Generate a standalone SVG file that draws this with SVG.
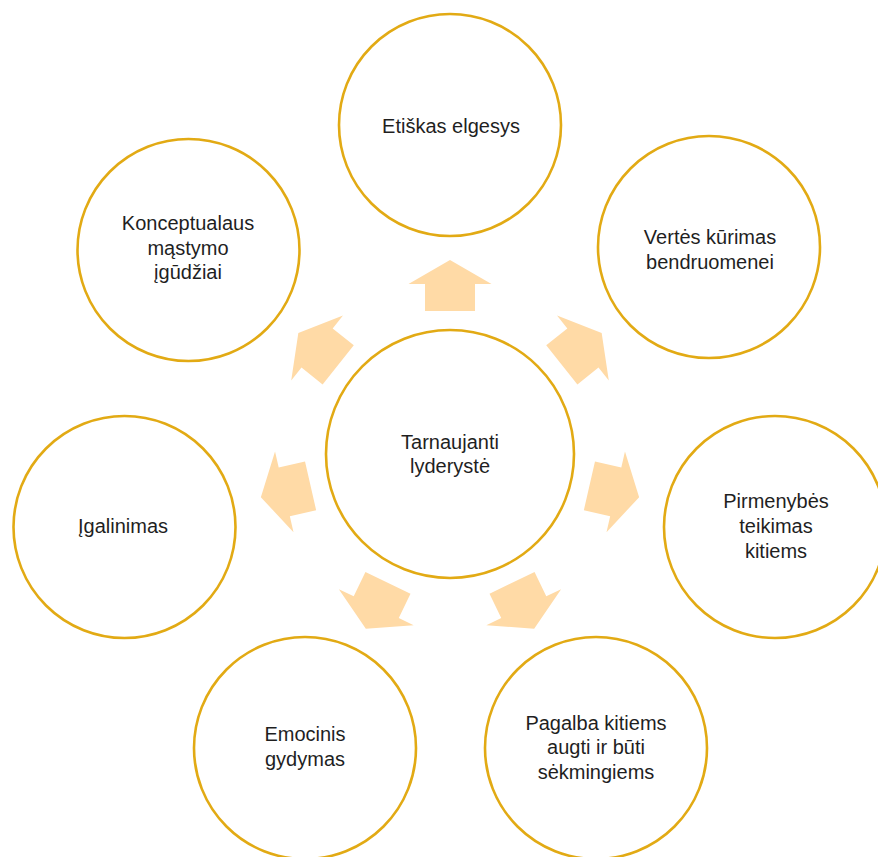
<svg xmlns="http://www.w3.org/2000/svg" width="878" height="857" viewBox="0 0 878 857">
  <style>
    .node circle { fill: #ffffff; stroke: #E2AA14; stroke-width: 2.6; }
    .node text { font-family: "Liberation Sans", Arial, sans-serif; font-size: 20px; fill: #1f1f1f; text-anchor: middle; }
    .arrow { fill: #FFDAA6; }
  </style>
  <defs>
    <!-- block arrow pointing away from the hub, drawn for the upward direction -->
    <path id="blockArrow" d="M450,260 L491.5,284 L475,284 L475,311 L425,311 L425,284 L408.5,284 Z"/>
  </defs>
  <rect width="878" height="857" fill="#ffffff"/>

  <g id="connectors">
    <use href="#blockArrow" class="arrow" transform="rotate(0 450 454)"/>
    <use href="#blockArrow" class="arrow" transform="rotate(51.43 450 454)"/>
    <use href="#blockArrow" class="arrow" transform="rotate(102.86 450 454)"/>
    <use href="#blockArrow" class="arrow" transform="rotate(154.29 450 454)"/>
    <use href="#blockArrow" class="arrow" transform="rotate(205.71 450 454)"/>
    <use href="#blockArrow" class="arrow" transform="rotate(257.14 450 454)"/>
    <use href="#blockArrow" class="arrow" transform="rotate(308.57 450 454)"/>
  </g>

  <g id="hub" class="node">
    <circle cx="450" cy="454" r="124"/>
    <text x="450" y="449">Tarnaujanti</text>
    <text x="450" y="473">lyderystė</text>
  </g>

  <g id="etiskas-elgesys" class="node">
    <circle cx="450" cy="125" r="111"/>
    <text x="451" y="133">Etiškas elgesys</text>
  </g>

  <g id="vertes-kurimas" class="node">
    <circle cx="709" cy="247" r="111"/>
    <text x="710" y="244">Vertės kūrimas</text>
    <text x="710" y="269">bendruomenei</text>
  </g>

  <g id="pirmenybes-teikimas" class="node">
    <circle cx="775" cy="527" r="111"/>
    <text x="776" y="508">Pirmenybės</text>
    <text x="776" y="533">teikimas</text>
    <text x="776" y="558">kitiems</text>
  </g>

  <g id="pagalba-kitiems" class="node">
    <circle cx="596" cy="748" r="111"/>
    <text x="596" y="730">Pagalba kitiems</text>
    <text x="596" y="754">augti ir būti</text>
    <text x="596" y="779">sėkmingiems</text>
  </g>

  <g id="emocinis-gydymas" class="node">
    <circle cx="305" cy="748" r="111"/>
    <text x="305" y="741">Emocinis</text>
    <text x="305" y="766">gydymas</text>
  </g>

  <g id="igalinimas" class="node">
    <circle cx="124.5" cy="527" r="111"/>
    <text x="123" y="533">Įgalinimas</text>
  </g>

  <g id="konceptualaus-mastymo" class="node">
    <circle cx="188.5" cy="250" r="111"/>
    <text x="188" y="230">Konceptualaus</text>
    <text x="188" y="255">mąstymo</text>
    <text x="188" y="279">įgūdžiai</text>
  </g>
</svg>
